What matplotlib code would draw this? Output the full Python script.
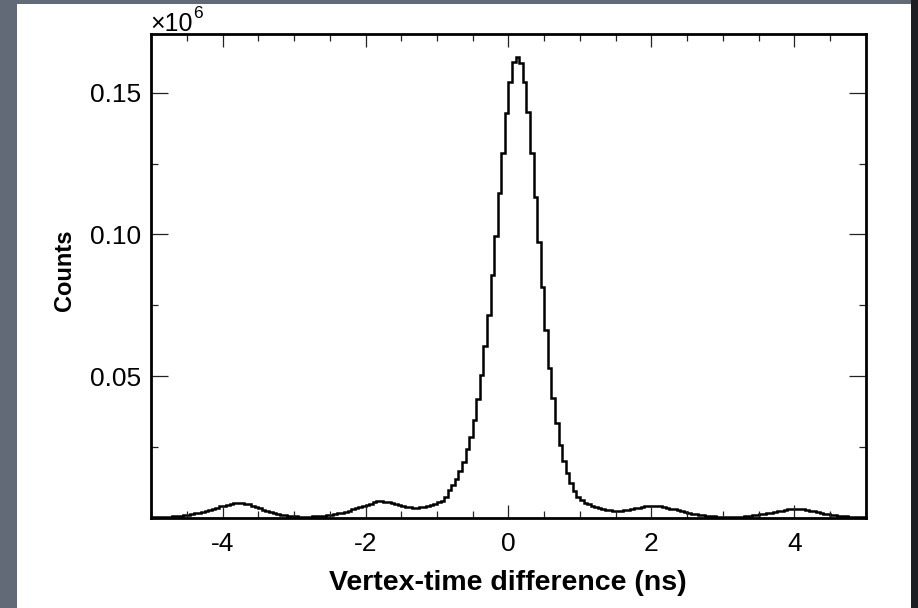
import numpy as np
import matplotlib
matplotlib.use('Agg')
import matplotlib.pyplot as plt
from matplotlib.patches import Rectangle
from matplotlib.ticker import FixedLocator, MultipleLocator

plt.rcParams['font.family'] = ['Liberation Sans', 'DejaVu Sans']
plt.rcParams['axes.unicode_minus'] = False

# ---- data (counts in thousands per 0.05 ns bin) ----
x_min, x_max, bin_width = -5.0, 5.0, 0.05

# bins -5.00 ... -1.00
counts_left_k = [
    0.3, 0.3, 0.3, 0.4, 0.4, 0.5, 0.6, 0.7, 0.8, 1.0,
    1.2, 1.4, 1.6, 1.9, 2.2, 2.5, 2.9, 3.3, 3.7, 4.1,
    4.4, 4.7, 5.0, 5.2, 5.3, 5.3, 5.1, 4.8, 4.4, 3.9,
    3.4, 2.9, 2.5, 2.1, 1.8, 1.5, 1.2, 1.0, 0.8, 0.7,
    0.6, 0.5, 0.5, 0.5, 0.5, 0.6, 0.6, 0.7, 0.8, 1.0,
    1.2, 1.4, 1.6, 1.9, 2.2, 2.6, 3.0, 3.4, 3.8, 4.2,
    4.7, 5.1, 5.5, 5.9, 5.9, 5.8, 5.7, 5.4, 5.0, 4.6,
    4.3, 4.0, 3.8, 3.7, 3.7, 3.8, 4.0, 4.3, 4.6, 5.0,
]
# bins -1.00 ... 1.00
counts_core_k = [
    5.6, 6.1, 7.5, 9.9, 11.6, 13.6, 16.6, 19.9, 24.2, 28.7,
    34.6, 41.9, 50.4, 60.8, 71.6, 85.7, 99.5, 114.5, 128.9, 143.0,
    153.9, 161.0, 162.7, 160.5, 153.9, 143.3, 128.6, 113.3, 97.5, 81.6,
    66.3, 52.8, 42.2, 33.4, 25.7, 20.2, 15.8, 12.2, 9.6, 7.3,
]
# bins 1.00 ... 5.00
counts_right_k = [
    6.2, 5.4, 4.8, 4.2, 3.8, 3.4, 3.1, 2.9, 2.7, 2.6,
    2.6, 2.6, 2.7, 2.9, 3.1, 3.4, 3.7, 3.9, 4.1, 4.2,
    4.3, 4.3, 4.2, 3.9, 3.6, 3.3, 3.0, 2.7, 2.3, 2.0,
    1.8, 1.5, 1.3, 1.1, 1.0, 0.8, 0.7, 0.6, 0.5, 0.5,
    0.4, 0.4, 0.4, 0.4, 0.5, 0.5, 0.6, 0.8, 0.9, 1.1,
    1.3, 1.5, 1.7, 1.9, 2.1, 2.4, 2.6, 2.8, 3.0, 3.1,
    3.2, 3.2, 3.1, 2.9, 2.6, 2.3, 2.0, 1.7, 1.5, 1.3,
    1.1, 0.9, 0.8, 0.7, 0.6, 0.5, 0.4, 0.4, 0.3, 0.3,
]

x_ticks = [-4, -2, 0, 2, 4]
x_tick_labels = ['-4', '-2', '0', '2', '4']
y_ticks = [0.05, 0.10, 0.15]
y_tick_labels = ['0.05', '0.10', '0.15']
x_label = 'Vertex-time difference (ns)'
y_label = 'Counts'
scale_label = '\u00d710'
scale_exp = '6'

counts = np.array(counts_left_k + counts_core_k + counts_right_k) * 1e3
edges = np.linspace(x_min, x_max, len(counts) + 1)

W, H = 918, 608
fig = plt.figure(figsize=(W / 100, H / 100), dpi=100, facecolor='#626977')
fig.add_artist(Rectangle((17 / W, 0), 894 / W, 604 / H, transform=fig.transFigure,
                         facecolor='white', edgecolor='none', zorder=-2))
fig.add_artist(Rectangle((911 / W, 0), 7 / W, 1, transform=fig.transFigure,
                         facecolor='#1d1e23', edgecolor='none', zorder=-2))

ax = fig.add_axes([151 / W, 90 / H, 715 / W, 484 / H])
ax.stairs(counts / 1e6, edges, color='black', linewidth=1.8, baseline=None)

ax.set_xlim(x_min, x_max)
ax.set_ylim(0, 0.1707)

ax.xaxis.set_major_locator(FixedLocator(x_ticks))
ax.set_xticklabels(x_tick_labels)
ax.xaxis.set_minor_locator(MultipleLocator(0.5))
ax.yaxis.set_major_locator(FixedLocator(y_ticks))
ax.set_yticklabels(y_tick_labels)
ax.yaxis.set_minor_locator(MultipleLocator(0.025))

ax.tick_params(which='both', direction='in', top=True, right=True, width=0.9,
               color='#222222', labelsize=19)
ax.xaxis.set_tick_params(which='major', length=9.5, pad=10)
ax.yaxis.set_tick_params(which='major', length=12, pad=7)
ax.tick_params(which='minor', length=5)

for s in ax.spines.values():
    s.set_linewidth(2.0)
    s.set_color('black')

fig.text(508 / W, 1 - 583 / H, x_label, ha='center', va='center',
         fontsize=20.5, fontweight='bold')
fig.text(65 / W, 1 - 270 / H, y_label, ha='center', va='center',
         fontsize=17, fontweight='bold', rotation=90)

fig.text(150 / W, 1 - 31 / H, scale_label, ha='left', va='baseline', fontsize=18)
fig.text(193 / W, 1 - 18 / H, scale_exp, ha='left', va='baseline', fontsize=12.5)

fig.savefig('out.png', dpi=100, facecolor=fig.get_facecolor())
